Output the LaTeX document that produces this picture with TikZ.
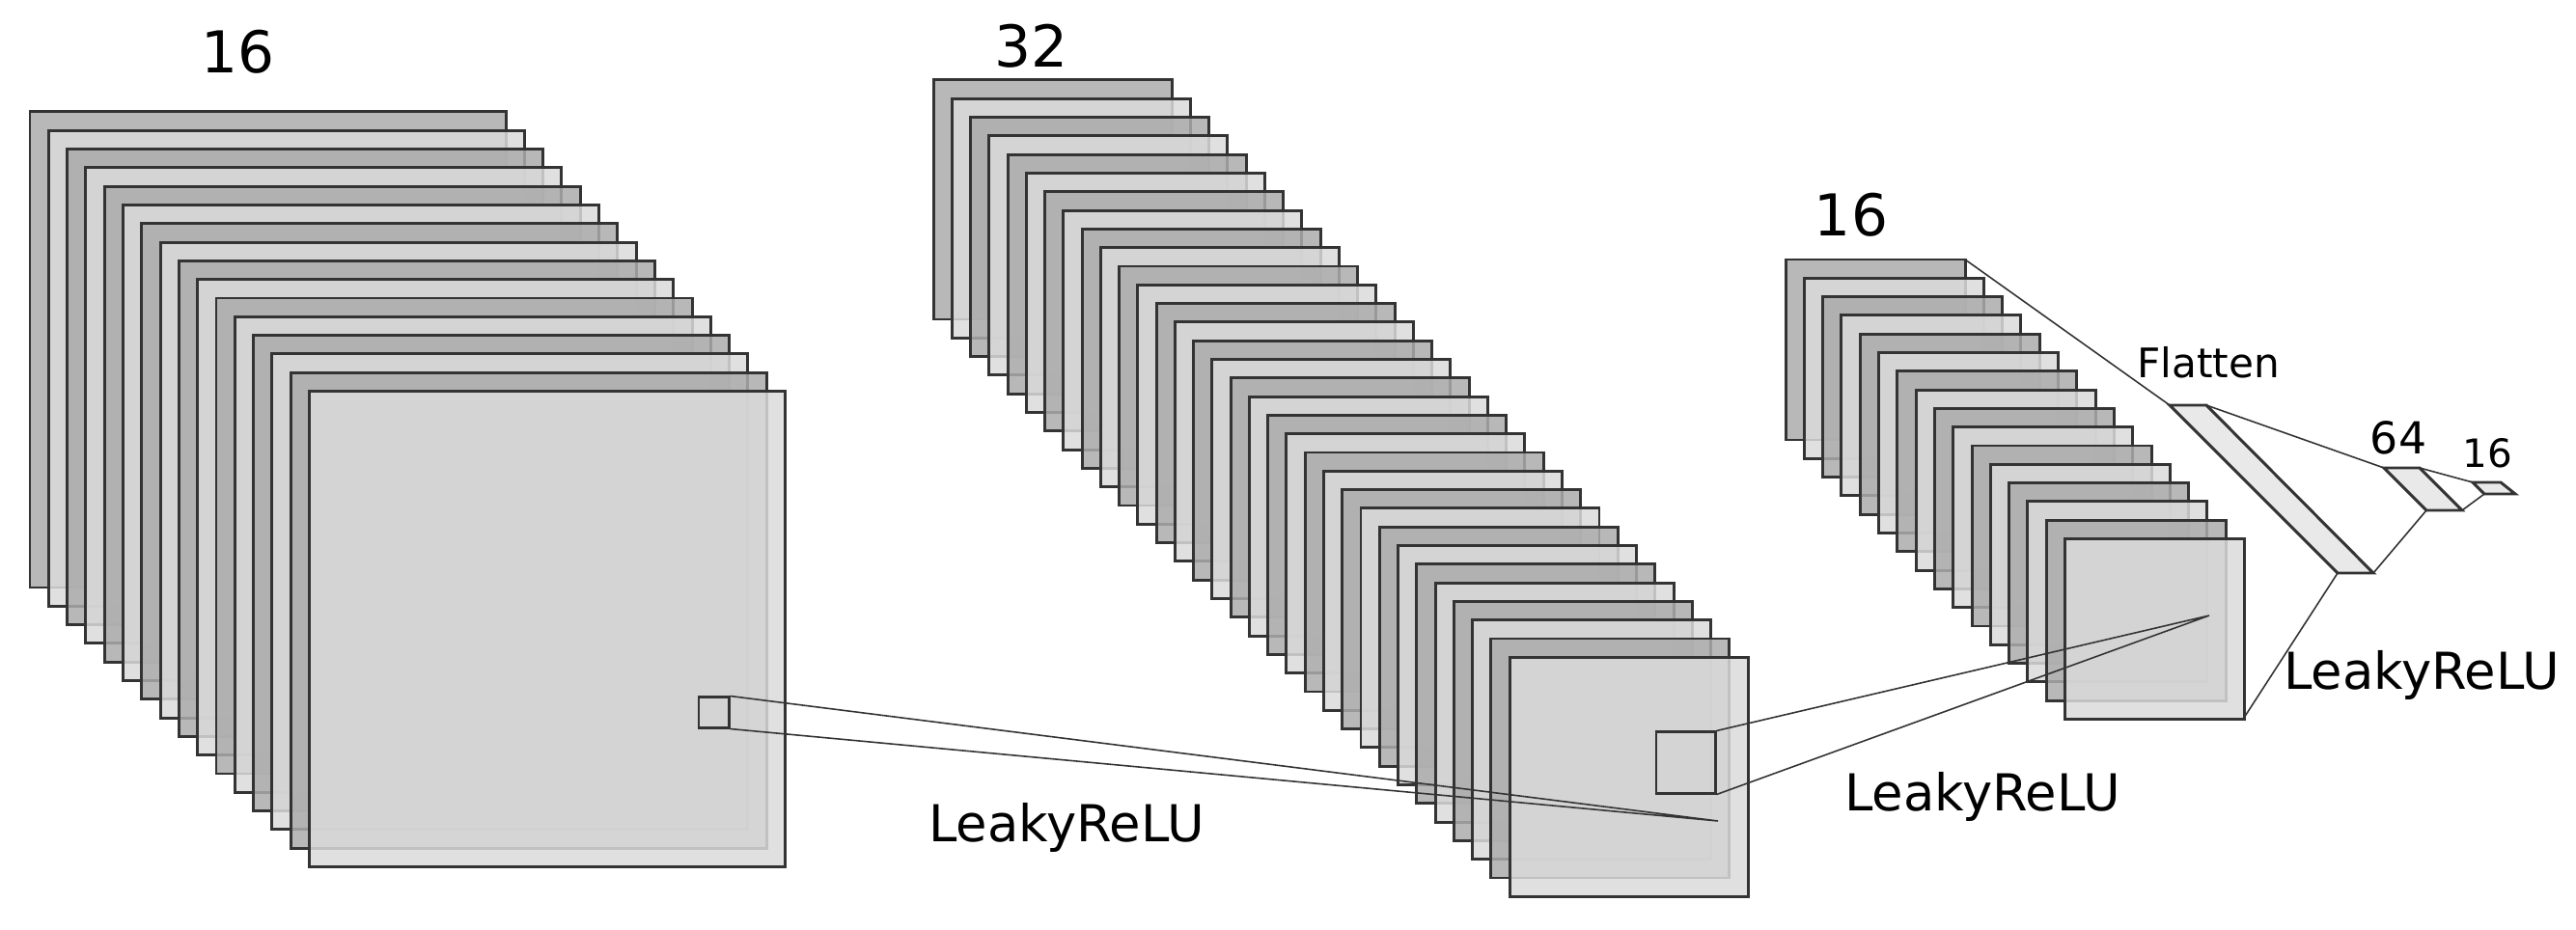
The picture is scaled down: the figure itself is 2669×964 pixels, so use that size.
\documentclass[tikz,border=0pt]{standalone}
\usepackage{fontspec}
\setmainfont{DejaVu Sans}
\begin{document}
\begin{tikzpicture}[x=0.01cm,y=-0.01cm,
  layerbox/.style={draw=black!80,line width=0.85pt,fill opacity=0.85},
  darkl/.style={layerbox,fill=black!33},
  lightl/.style={layerbox,fill=black!14},
  conn/.style={draw=black!80,line width=0.45pt},
  lab/.style={inner sep=0pt,anchor=center}]
\useasboundingbox (0,0) rectangle (2669,964);
% stack 1
\foreach \i in {0,...,15}{
  \pgfmathsetmacro\xx{31+19.3*\i}\pgfmathsetmacro\yy{116+19.3*\i}
  \pgfmathtruncatemacro\m{mod(\i,2)}
  \ifnum\m=0 \def\st{darkl}\else\def\st{lightl}\fi
  \draw[\st] (\xx,\yy) rectangle ++(493,493);
}
% stack 2
\foreach \i in {0,...,31}{
  \pgfmathsetmacro\xx{967+19.26*\i}\pgfmathsetmacro\yy{83+19.3*\i}
  \pgfmathtruncatemacro\m{mod(\i,2)}
  \ifnum\m=0 \def\st{darkl}\else\def\st{lightl}\fi
  \draw[\st] (\xx,\yy) rectangle ++(247,248);
}
% stack 3
\foreach \i in {0,...,15}{
  \pgfmathsetmacro\xx{1850+19.3*\i}\pgfmathsetmacro\yy{269+19.3*\i}
  \pgfmathtruncatemacro\m{mod(\i,2)}
  \ifnum\m=0 \def\st{darkl}\else\def\st{lightl}\fi
  \draw[\st] (\xx,\yy) rectangle ++(186,187);
}
% kernels
\node[draw=black!80,line width=0.85pt,minimum width=0.31cm,minimum height=0.31cm,inner sep=0pt] (k1) at (739.5,738.5) {};
\node[draw=black!80,line width=0.85pt,minimum width=0.61cm,minimum height=0.63cm,inner sep=0pt] (k2) at (1746.5,790.5) {};
\coordinate (p1) at (1780,851);
\coordinate (p2) at (2289,638);
\draw[conn] (k1.north east) -- (p1) -- (k1.south east);
\draw[conn] (k2.north east) -- (p2) -- (k2.south east);
% dense
\coordinate (s3tr) at (2036,269);
\coordinate (s3br) at (2325,744);
\draw[layerbox,fill=black!10] (2248,420) coordinate (ftl) -- (2286,420) coordinate (ftr) -- (2459,594) coordinate (fbr) -- (2422,594) coordinate (fbl) -- cycle;
\draw[layerbox,fill=black!10] (2470,485) coordinate (atl) -- (2507,485) coordinate (atr) -- (2551,529) coordinate (abr) -- (2514,529) coordinate (abl) -- cycle;
\draw[layerbox,fill=black!10] (2562,500) coordinate (btl) -- (2591,500) coordinate (btr) -- (2606,512) coordinate (bbr) -- (2574,512) coordinate (bbl) -- cycle;
\draw[conn] (s3tr) -- (ftl);
\draw[conn] (s3br) -- (fbl);
\draw[conn] (ftr) -- (atl);
\draw[conn] (fbr) -- (abl);
\draw[conn] (atr) -- (btl);
\draw[conn] (abr) -- (bbl);
% labels
\node[lab,font=\fontsize{17}{20}\selectfont] (t1) at (247,54) {16};
\node[lab,font=\fontsize{17}{20}\selectfont] (t2) at (1069,48) {32};
\node[lab,font=\fontsize{17}{20}\selectfont] (t3) at (1918,223) {16};
\node[lab,font=\fontsize{12}{14}\selectfont] (tf) at (2288,376) {Flatten};
\node[lab,font=\fontsize{13}{15}\selectfont] (t64) at (2485,454) {64};
\node[lab,font=\fontsize{11.5}{14}\selectfont] (t16b) at (2577,470) {16};
\node[lab,font=\fontsize{15}{18}\selectfont] (l1) at (1105,858) {LeakyReLU};
\node[lab,font=\fontsize{15}{18}\selectfont] (l2) at (2054,826) {LeakyReLU};
\node[lab,font=\fontsize{15}{18}\selectfont] (l3) at (2509,700) {LeakyReLU};
\end{tikzpicture}
\end{document}
